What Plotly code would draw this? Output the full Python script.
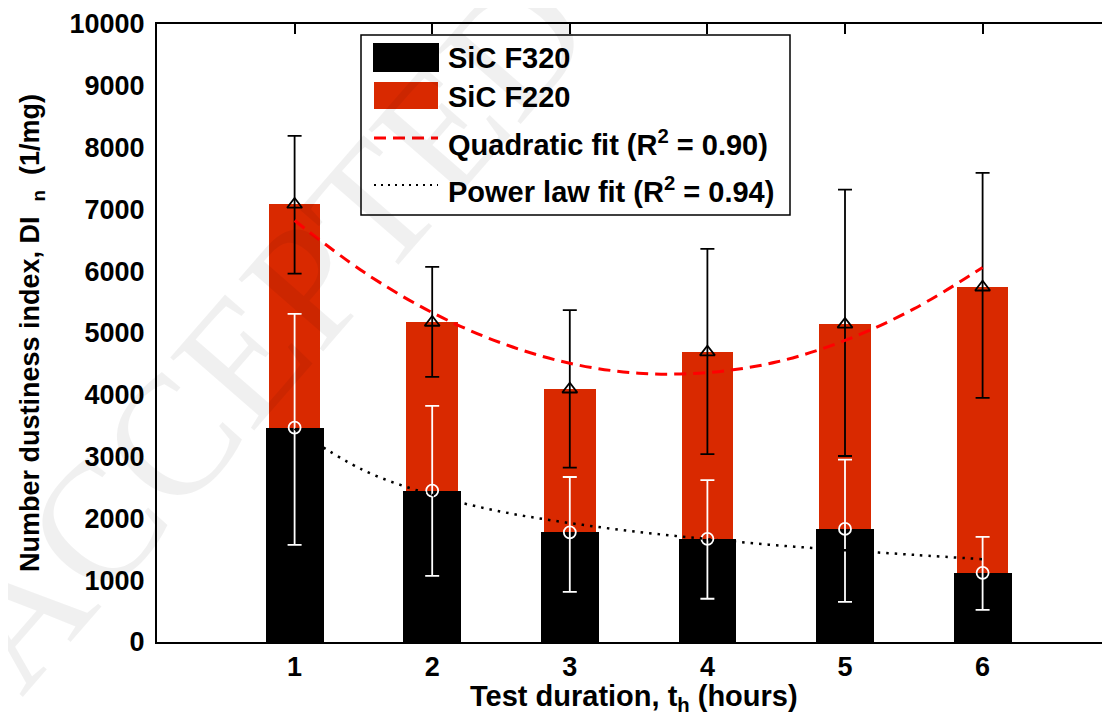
import plotly.graph_objects as go

# ---------------- data ----------------
hours = [1, 2, 3, 4, 5, 6]
tick_labels = ["1", "2", "3", "4", "5", "6"]

f220_mean = [7080, 5170, 4090, 4690, 5140, 5740]
f220_upper = [8190, 6070, 5370, 6360, 7320, 7590]
f220_lower = [5960, 4290, 2820, 3040, 3010, 3950]

f320_mean = [3470, 2450, 1775, 1670, 1830, 1120]
f320_upper = [5310, 3820, 2670, 2620, 2950, 1700]
f320_lower = [1570, 1070, 810, 700, 650, 520]

fit_x = [1, 1.5, 2, 2.5, 3, 3.5, 4, 4.5, 5, 5.5, 6]
quad_fit = [6820, 5990, 5330, 4840, 4510, 4350, 4360, 4530, 4880, 5390, 6060]
power_fit = [3450, 2780, 2380, 2110, 1925, 1780, 1665, 1565, 1485, 1410, 1340]

y_ticks = list(range(0, 10001, 1000))

RED = "#D92900"
FONT = "Liberation Sans"

# page geometry: the html body adds an 8px offset
OX, OY = 8, 8
W, H = 1110 - OX, 725 - OY
# plot area in page pixels (left, right, top, bottom)
L, R, T, B = 157, 1110, 24, 642


def px(x):
    return (x - L) / (R - L)


def py(y):
    return (B - y) / (B - T)


fig = go.Figure()

fig.add_trace(go.Bar(x=hours, y=f220_mean, width=0.375, marker=dict(color=RED, line=dict(width=0)),
                     name="SiC F220", showlegend=False))
fig.add_trace(go.Bar(x=hours, y=f320_mean, width=0.42, marker=dict(color="black", line=dict(width=0)),
                     name="SiC F320", showlegend=False))

fig.add_trace(go.Scatter(
    x=hours, y=f220_mean, mode="markers", showlegend=False,
    marker=dict(symbol="triangle-up-open", size=13, color="black", line=dict(width=1.8, color="black")),
    error_y=dict(type="data", symmetric=False,
                 array=[u - m for u, m in zip(f220_upper, f220_mean)],
                 arrayminus=[m - l for m, l in zip(f220_mean, f220_lower)],
                 color="black", thickness=1.8, width=7)))

fig.add_trace(go.Scatter(
    x=hours, y=f320_mean, mode="markers", showlegend=False,
    marker=dict(symbol="circle-open", size=12, color="white", line=dict(width=1.8, color="white")),
    error_y=dict(type="data", symmetric=False,
                 array=[u - m for u, m in zip(f320_upper, f320_mean)],
                 arrayminus=[m - l for m, l in zip(f320_mean, f320_lower)],
                 color="white", thickness=1.8, width=7)))

fig.add_trace(go.Scatter(x=fit_x, y=quad_fit, mode="lines", line_shape="spline", showlegend=False,
                         line=dict(color="#FF0000", width=3, dash="12px,7px"), name="Quadratic fit"))
fig.add_trace(go.Scatter(x=fit_x, y=power_fit, mode="lines", line_shape="spline", showlegend=False,
                         line=dict(color="black", width=2.5, dash="2.5px,6px"), name="Power law fit"))

# helper trace for the right-hand tick axis
fig.add_trace(go.Scatter(x=[None], y=[None], yaxis="y2", showlegend=False, hoverinfo="skip"))

# ---------------- manual legend ----------------
shapes = [
    dict(type="rect", xref="paper", yref="paper", x0=px(361), x1=px(790), y0=py(215), y1=py(35),
         line=dict(color="black", width=1.5), fillcolor="white", layer="above"),
    dict(type="rect", xref="paper", yref="paper", x0=px(373), x1=px(439), y0=py(72), y1=py(43),
         line=dict(width=0), fillcolor="black", layer="above"),
    dict(type="rect", xref="paper", yref="paper", x0=px(374), x1=px(438), y0=py(109), y1=py(82),
         line=dict(width=0), fillcolor=RED, layer="above"),
    dict(type="line", xref="paper", yref="paper", x0=px(374), x1=px(438), y0=py(138), y1=py(138),
         line=dict(color="#FF0000", width=3, dash="12px,7px"), layer="above"),
    dict(type="line", xref="paper", yref="paper", x0=px(374), x1=px(438), y0=py(185), y1=py(185),
         line=dict(color="black", width=2, dash="2px,5px"), layer="above"),
]

leg_font = dict(family=FONT, size=29, color="black")
annotations = []
for text, yy in [("<b>SiC F320</b>", 58), ("<b>SiC F220</b>", 97),
                 ("<b>Quadratic fit (R<sup>2</sup> = 0.90)</b>", 143),
                 ("<b>Power law fit (R<sup>2</sup> = 0.94)</b>", 190)]:
    annotations.append(dict(text=text, xref="paper", yref="paper", x=px(446), y=py(yy),
                            xanchor="left", yanchor="middle", showarrow=False, font=leg_font))

# x axis title
annotations.append(dict(text="<b>Test duration, t<sub>h</sub> (hours)</b>", xref="paper", yref="paper",
                        x=px(634), y=py(698), xanchor="center", yanchor="middle", showarrow=False,
                        font=dict(family=FONT, size=29, color="black")))

# faint watermark
annotations.append(dict(text="ACCEPTED MANUSCRIPT", xref="paper", yref="paper", x=px(640), y=py(-100),
                        textangle=-49, showarrow=False, xanchor="center", yanchor="middle",
                        font=dict(family="Liberation Serif", size=170, color="rgba(0,0,0,0.06)")))

fig.update_layout(
    width=W, height=H,
    margin=dict(l=L - OX, r=W - (R - OX), t=T - OY, b=H - (B - OY), pad=0),
    paper_bgcolor="white", plot_bgcolor="white",
    barmode="overlay", bargap=0,
    showlegend=False,
    shapes=shapes, annotations=annotations,
    font=dict(family=FONT, color="black"),
    xaxis=dict(range=[0, (R - L) / 137.6], tickvals=hours, ticktext=["<b>%s</b>" % t for t in tick_labels],
               ticks="inside", ticklen=10, tickwidth=1.5, tickcolor="black",
               showline=True, linewidth=2, linecolor="black", mirror="ticks",
               showgrid=False, zeroline=False, ticklabelstandoff=0,
               tickfont=dict(family=FONT, size=27, color="black")),
    yaxis=dict(range=[0, 10000], tickvals=y_ticks, ticktext=["<b>%d</b>" % v for v in y_ticks],
               ticks="", showline=True, linewidth=2, linecolor="black", mirror=False,
               showgrid=False, zeroline=False, ticklabelstandoff=5,
               tickfont=dict(family=FONT, size=27, color="black"),
               title=dict(text="<b>Number dustiness index, DI&nbsp;&nbsp;<sub>n</sub>&nbsp;&nbsp;(1/mg)</b>",
                          font=dict(family=FONT, size=27, color="black"), standoff=22)),
    yaxis2=dict(range=[0, 10000], tickvals=y_ticks, overlaying="y", side="right",
                ticks="inside", ticklen=6, tickwidth=2, tickcolor="black",
                showticklabels=False, showline=False, showgrid=False, zeroline=False),
)

fig.write_html("out.html")
